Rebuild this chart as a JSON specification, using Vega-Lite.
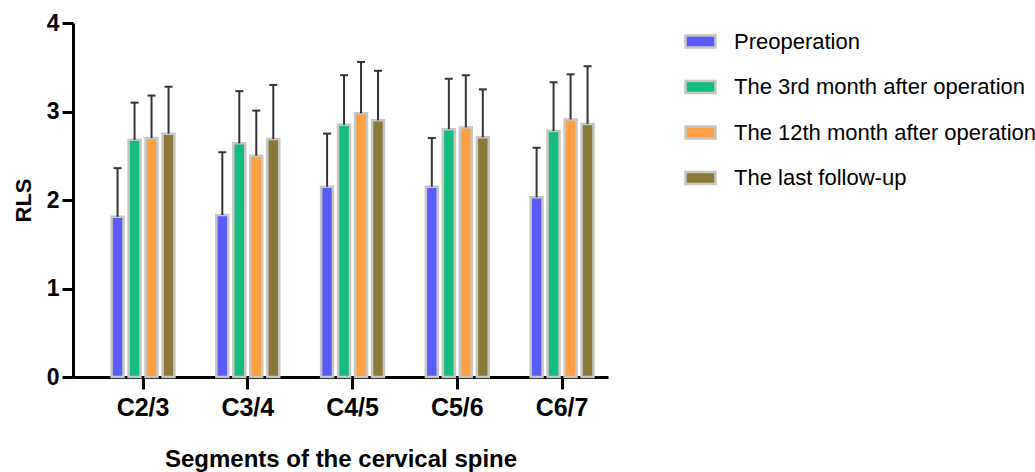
{
  "$schema": "https://vega.github.io/schema/vega-lite/v6.json",
  "width": 535,
  "height": 354,
  "autosize": {"type": "none"},
  "padding": {"left": 73, "top": 23, "right": 427, "bottom": 95},
  "background": "white",
  "config": {"view": {"stroke": null}, "font": "Liberation Sans"},
  "data": {
    "values": [
      {"segment": "C2/3", "group": "Preoperation", "mean": 1.81, "upper": 2.36},
      {"segment": "C2/3", "group": "The 3rd month after operation", "mean": 2.68, "upper": 3.10},
      {"segment": "C2/3", "group": "The 12th month after operation", "mean": 2.70, "upper": 3.18},
      {"segment": "C2/3", "group": "The last follow-up", "mean": 2.75, "upper": 3.28},
      {"segment": "C3/4", "group": "Preoperation", "mean": 1.83, "upper": 2.54},
      {"segment": "C3/4", "group": "The 3rd month after operation", "mean": 2.64, "upper": 3.23},
      {"segment": "C3/4", "group": "The 12th month after operation", "mean": 2.50, "upper": 3.01},
      {"segment": "C3/4", "group": "The last follow-up", "mean": 2.69, "upper": 3.30},
      {"segment": "C4/5", "group": "Preoperation", "mean": 2.15, "upper": 2.75},
      {"segment": "C4/5", "group": "The 3rd month after operation", "mean": 2.85, "upper": 3.41},
      {"segment": "C4/5", "group": "The 12th month after operation", "mean": 2.98, "upper": 3.56},
      {"segment": "C4/5", "group": "The last follow-up", "mean": 2.90, "upper": 3.46},
      {"segment": "C5/6", "group": "Preoperation", "mean": 2.15, "upper": 2.70},
      {"segment": "C5/6", "group": "The 3rd month after operation", "mean": 2.80, "upper": 3.37},
      {"segment": "C5/6", "group": "The 12th month after operation", "mean": 2.82, "upper": 3.41},
      {"segment": "C5/6", "group": "The last follow-up", "mean": 2.71, "upper": 3.25},
      {"segment": "C6/7", "group": "Preoperation", "mean": 2.03, "upper": 2.59},
      {"segment": "C6/7", "group": "The 3rd month after operation", "mean": 2.78, "upper": 3.33},
      {"segment": "C6/7", "group": "The 12th month after operation", "mean": 2.91, "upper": 3.42},
      {"segment": "C6/7", "group": "The last follow-up", "mean": 2.86, "upper": 3.51}
    ]
  },
  "encoding": {
    "x": {
      "field": "segment",
      "type": "nominal",
      "sort": ["C2/3", "C3/4", "C4/5", "C5/6", "C6/7"],
      "scale": {"paddingInner": 0.4, "paddingOuter": 0.2535, "align": 0.727},
      "axis": {
        "title": "Segments of the cervical spine",
        "titleFontSize": 24,
        "titleFontWeight": "bold",
        "titleColor": "black",
        "titlePadding": 27,
        "labelAngle": 0,
        "labelFontSize": 25,
        "labelFontWeight": "bold",
        "labelColor": "black",
        "labelPadding": 6,
        "domainColor": "black",
        "domainWidth": 3,
        "tickColor": "black",
        "tickWidth": 3,
        "tickSize": 12,
        "grid": false
      }
    },
    "xOffset": {
      "field": "group",
      "type": "nominal",
      "sort": ["Preoperation", "The 3rd month after operation", "The 12th month after operation", "The last follow-up"],
      "scale": {"paddingInner": 0.3, "paddingOuter": 0}
    }
  },
  "layer": [
    {
      "mark": {"type": "bar", "stroke": "#c6c6c6", "strokeWidth": 2.5},
      "encoding": {
        "y": {
          "field": "mean",
          "type": "quantitative",
          "scale": {"domain": [0, 4], "nice": false},
          "axis": {
            "title": "RLS",
            "titleFontSize": 22,
            "titleFontWeight": "bold",
            "titleColor": "black",
            "titlePadding": 11,
            "values": [0, 1, 2, 3, 4],
            "format": "d",
            "labelFontSize": 23,
            "labelFontWeight": "bold",
            "labelColor": "black",
            "labelPadding": 3,
            "domainColor": "black",
            "domainWidth": 3,
            "tickColor": "black",
            "tickWidth": 3,
            "tickSize": 11,
            "grid": false
          }
        },
        "color": {
          "field": "group",
          "type": "nominal",
          "sort": ["Preoperation", "The 3rd month after operation", "The 12th month after operation", "The last follow-up"],
          "scale": {
            "domain": ["Preoperation", "The 3rd month after operation", "The 12th month after operation", "The last follow-up"],
            "range": ["#5b5bfa", "#12bd7d", "#fea043", "#8a7a3a"]
          },
          "legend": {
            "orient": "none",
            "legendX": 611,
            "legendY": 2,
            "title": null,
            "padding": 0,
            "symbolType": "M-1,-0.4H1V0.4H-1Z",
            "symbolSize": 900,
            "symbolStrokeColor": "#c6c6c6",
            "symbolStrokeWidth": 2.5,
            "symbolOpacity": 1,
            "labelFontSize": 22,
            "labelColor": "black",
            "labelOffset": 17,
            "rowPadding": 17.5,
            "labelLimit": 400
          }
        }
      }
    },
    {
      "mark": {"type": "rule", "color": "#333333", "strokeWidth": 2},
      "encoding": {
        "y": {"field": "mean", "type": "quantitative"},
        "y2": {"field": "upper"}
      }
    },
    {
      "mark": {"type": "tick", "color": "#333333", "thickness": 2, "size": 8, "opacity": 1},
      "encoding": {
        "y": {"field": "upper", "type": "quantitative"}
      }
    }
  ]
}
